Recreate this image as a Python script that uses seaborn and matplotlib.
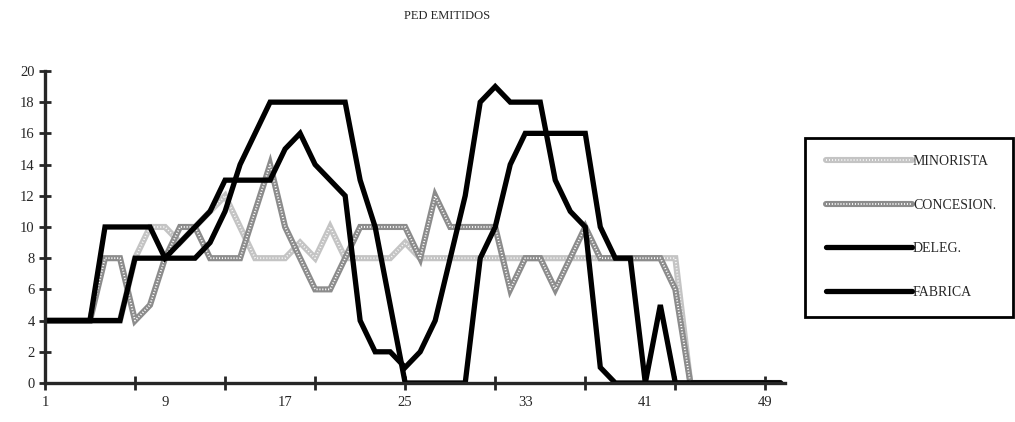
import matplotlib
matplotlib.use("Agg")
import pandas as pd
import matplotlib.pyplot as plt
import seaborn as sns
from matplotlib.lines import Line2D
from matplotlib.legend_handler import HandlerTuple
from matplotlib.patches import Rectangle

# datos (dias 1..50)
dias = list(range(1, 51))
minorista = [4, 4, 4, 4, 4, 4, 8, 10, 10, 9, 10, 11, 12, 10, 8, 8, 8, 9, 8, 10,
             8, 8, 8, 8, 9, 8, 8, 8, 8, 8, 8, 8, 8, 8, 8, 8, 8, 8, 8, 8,
             8, 8, 8, 0, 0, 0, 0, 0, 0, 0]
concesion = [4, 4, 4, 4, 8, 8, 4, 5, 8, 10, 10, 8, 8, 8, 11, 14, 10, 8, 6, 6,
             8, 10, 10, 10, 10, 8, 12, 10, 10, 10, 10, 6, 8, 8, 6, 8, 10, 8, 8, 8,
             8, 8, 6, 0, 0, 0, 0, 0, 0, 0]
deleg = [4, 4, 4, 4, 10, 10, 10, 10, 8, 9, 10, 11, 13, 13, 13, 13, 15, 16, 14, 13,
         12, 4, 2, 2, 1, 2, 4, 8, 12, 18, 19, 18, 18, 18, 13, 11, 10, 1, 0, 0,
         0, 0, 0, 0, 0, 0, 0, 0, 0, 0]
fabrica = [4, 4, 4, 4, 4, 4, 8, 8, 8, 8, 8, 9, 11, 14, 16, 18, 18, 18, 18, 18,
           18, 13, 10, 5, 0, 0, 0, 0, 0, 8, 10, 14, 16, 16, 16, 16, 16, 10, 8, 8,
           0, 5, 0, 0, 0, 0, 0, 0, 0, 0]
etiquetas_x = [1, 9, 17, 25, 33, 41, 49]
marcas_x = list(range(1, 50, 6))

df = pd.DataFrame({"dia": dias, "MINORISTA": minorista, "CONCESION.": concesion,
                   "DELEG.": deleg, "FABRICA": fabrica})

sns.set_style("ticks")
plt.rcParams["font.family"] = ["Liberation Serif", "DejaVu Serif"]

fig = plt.figure(figsize=(10.15, 4.22), dpi=100)
ax = fig.add_axes([0.0443, 0.0924, 0.729, 0.7395])

# lineas tramadas (gris + puntos blancos)
estilo_gris = {"MINORISTA": ("#c4c4c4", (0, (0.5, 1.2))),
               "CONCESION.": ("#8c8c8c", (0, (0.6, 1.0)))}
handles = []
for serie, (col, trama) in estilo_gris.items():
    sns.lineplot(data=df, x="dia", y=serie, ax=ax, color=col, lw=4.4,
                 solid_joinstyle="miter")
    sns.lineplot(data=df, x="dia", y=serie, ax=ax, color="white", lw=1.3,
                 linestyle=trama)
    handles.append((Line2D([], [], color=col, lw=4.4),
                    Line2D([], [], color="white", lw=1.3, linestyle=trama)))

for serie in ["DELEG.", "FABRICA"]:
    sns.lineplot(data=df, x="dia", y=serie, ax=ax, color="black", lw=3.8,
                 solid_joinstyle="miter")
    handles.append(Line2D([], [], color="black", lw=3.8))

ax.set_xlim(1, 50.3)
ax.set_ylim(0, 20)
ax.set_xlabel("")
ax.set_ylabel("")
ax.set_yticks(range(0, 21, 2))
# etiquetas cada 8, marcas cada 6
ax.set_xticks(etiquetas_x)
ax.set_xticklabels([str(e) for e in etiquetas_x])
ax.set_xticks(marcas_x, minor=True)
ax.xaxis.remove_overlapping_locs = False
ax.tick_params(axis="x", which="minor", direction="inout", length=10, width=2)
ax.tick_params(axis="x", which="major", length=0, pad=9, labelsize=10.5)
ax.tick_params(axis="y", direction="inout", length=9, width=2, pad=3, labelsize=10.5)
sns.despine(ax=ax)
for lado in ["left", "bottom"]:
    ax.spines[lado].set_linewidth(2.4)

fig.text(0.44, 0.962, "PED EMITIDOS", ha="center", va="center", fontsize=9)

# caja de la leyenda
fig.patches.append(Rectangle((0.793, 0.249), 0.205, 0.424, transform=fig.transFigure,
                             fill=False, lw=2, edgecolor="black"))
fig.legend(handles, list(df.columns[1:]), loc="center left",
           bbox_to_anchor=(0.801, 0.462), frameon=False, fontsize=10,
           handlelength=6.2, handletextpad=0.1, labelspacing=2.2,
           handler_map={tuple: HandlerTuple(ndivide=1, pad=0)})

fig.savefig("out.png", dpi=100)
